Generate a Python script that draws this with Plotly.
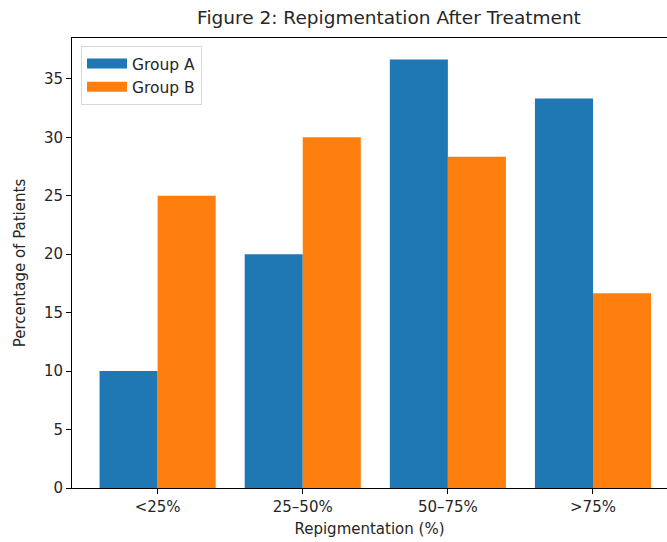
import plotly.graph_objects as go

categories = ["<25%", "25–50%", "50–75%", ">75%"]
group_a = [10.0, 20.0, 36.67, 33.33]
group_b = [25.0, 30.0, 28.33, 16.67]
y_ticks = [0, 5, 10, 15, 20, 25, 30, 35]
colors = {"Group A": "#1f77b4", "Group B": "#ff7f0e"}

font = "DejaVu Sans"
fig = go.Figure()
for name, vals in (("Group A", group_a), ("Group B", group_b)):
    fig.add_trace(go.Bar(x=categories, y=vals, name=name, showlegend=False,
                         marker=dict(color=colors[name], line=dict(width=0))))
# legend-only entries drawn as wide patches like matplotlib's
for name in ("Group A", "Group B"):
    fig.add_trace(go.Scatter(x=[None], y=[None], mode="lines", name=name,
                             line=dict(color=colors[name], width=13)))

fig.update_layout(
    width=667, height=542,
    margin=dict(l=72, r=0, t=38, b=54),
    plot_bgcolor="white", paper_bgcolor="white",
    barmode="group", bargap=0.2, bargroupgap=0,
    font=dict(family=font, size=15, color="#262626"),
    title=dict(text="Figure 2: Repigmentation After Treatment", x=389 / 667, xref="container", xanchor="center",
               y=1 - 18 / 542, yref="container", yanchor="middle", font=dict(size=18.5, color="#262626")),
    legend=dict(x=(81 - 72) / 595, y=1 - (46 - 38) / 450, xanchor="left", yanchor="top",
                bgcolor="rgba(255,255,255,0.8)", bordercolor="#d9d9d9", borderwidth=1,
                font=dict(size=15.5), itemwidth=40, tracegroupgap=2),
    showlegend=True,
)
fig.update_xaxes(type="category", range=[-0.59, 3.51], showline=True, linecolor="black", linewidth=1,
                 mirror=True, ticks="outside", ticklen=5, tickcolor="black", showgrid=False,
                 title=dict(text="Repigmentation (%)", font=dict(size=15), standoff=8))
fig.update_yaxes(range=[0, 38.5], tickvals=y_ticks, showline=True, linecolor="black", linewidth=1,
                 ticks="outside", ticklen=5, tickcolor="black", showgrid=False, zeroline=False,
                 title=dict(text="Percentage of Patients", font=dict(size=15), standoff=14))
fig.write_html("out.html", config={"displayModeBar": False},
               post_script="document.body.style.margin='0';document.body.style.overflow='hidden';")
